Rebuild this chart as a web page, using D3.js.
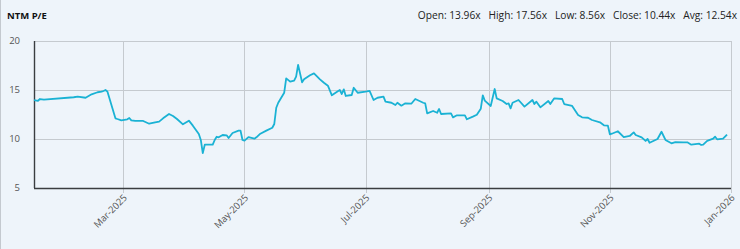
<!DOCTYPE html>
<html>
<head>
<meta charset="utf-8">
<script src="https://cdn.jsdelivr.net/npm/d3@7"></script>
<style>
  html, body { margin: 0; padding: 0; background: #eef4fa; }
  svg { display: block; font-family: 'Open Sans', sans-serif; }
</style>
</head>
<body>
<svg></svg>
<script>
const dates = [
  '2025-01-15', '2025-01-17', '2025-01-18', '2025-01-20', '2025-02-04', '2025-02-06', '2025-02-10', '2025-02-13',
  '2025-02-16', '2025-02-18', '2025-02-19', '2025-02-20', '2025-02-21', '2025-02-25', '2025-02-26', '2025-02-28',
  '2025-03-03', '2025-03-04', '2025-03-05', '2025-03-07', '2025-03-11', '2025-03-14', '2025-03-17', '2025-03-19',
  '2025-03-21', '2025-03-24', '2025-03-26', '2025-03-28', '2025-03-31', '2025-04-03', '2025-04-05', '2025-04-08',
  '2025-04-09', '2025-04-10', '2025-04-11', '2025-04-15', '2025-04-16', '2025-04-17', '2025-04-18', '2025-04-20',
  '2025-04-22', '2025-04-23', '2025-04-25', '2025-04-28', '2025-04-29', '2025-04-30', '2025-05-01', '2025-05-03',
  '2025-05-06', '2025-05-07', '2025-05-09', '2025-05-12', '2025-05-15', '2025-05-16', '2025-05-17', '2025-05-18',
  '2025-05-21', '2025-05-22', '2025-05-24', '2025-05-26', '2025-05-27', '2025-05-28', '2025-05-30', '2025-05-31',
  '2025-06-03', '2025-06-05', '2025-06-08', '2025-06-10', '2025-06-12', '2025-06-14', '2025-06-17', '2025-06-18',
  '2025-06-19', '2025-06-20', '2025-06-21', '2025-06-24', '2025-06-25', '2025-06-27', '2025-07-01', '2025-07-03',
  '2025-07-05', '2025-07-07', '2025-07-10', '2025-07-11', '2025-07-14', '2025-07-16', '2025-07-17', '2025-07-19',
  '2025-07-21', '2025-07-24', '2025-07-26', '2025-07-30', '2025-07-31', '2025-08-01', '2025-08-04', '2025-08-06',
  '2025-08-07', '2025-08-08', '2025-08-13', '2025-08-14', '2025-08-16', '2025-08-20', '2025-08-21', '2025-08-24',
  '2025-08-26', '2025-08-28', '2025-08-29', '2025-08-30', '2025-09-02', '2025-09-04', '2025-09-05', '2025-09-08',
  '2025-09-10', '2025-09-11', '2025-09-12', '2025-09-13', '2025-09-16', '2025-09-19', '2025-09-23', '2025-09-24',
  '2025-09-25', '2025-09-27', '2025-10-01', '2025-10-02', '2025-10-04', '2025-10-08', '2025-10-09', '2025-10-13',
  '2025-10-16', '2025-10-18', '2025-10-21', '2025-10-23', '2025-10-27', '2025-10-29', '2025-10-31', '2025-11-01',
  '2025-11-02', '2025-11-05', '2025-11-08', '2025-11-11', '2025-11-13', '2025-11-14', '2025-11-17', '2025-11-19',
  '2025-11-20', '2025-11-21', '2025-11-25', '2025-11-27', '2025-11-29', '2025-12-02', '2025-12-04', '2025-12-08',
  '2025-12-10', '2025-12-12', '2025-12-16', '2025-12-17', '2025-12-18', '2025-12-20', '2025-12-23', '2025-12-24',
  '2025-12-25', '2025-12-28', '2025-12-30'
]
const values = [
  13.96, 13.9, 14.08, 14.01, 14.26, 14.32, 14.21, 14.56,
  14.77, 14.83, 14.9, 15.0, 14.83, 12.11, 12.04, 11.91,
  12.01, 12.14, 11.91, 11.84, 11.84, 11.56, 11.7, 11.77,
  12.11, 12.55, 12.35, 12.04, 11.5, 11.87, 11.36, 10.51,
  9.9, 8.56, 9.42, 9.42, 9.9, 10.23, 10.17, 10.41,
  10.38, 10.1, 10.61, 10.85, 10.85, 9.9, 9.83, 10.2,
  10.03, 10.17, 10.54, 10.85, 11.15, 11.53, 13.19, 13.7,
  14.72, 16.19, 15.85, 15.95, 16.36, 17.56, 15.79, 16.09,
  16.5, 16.7, 16.09, 15.74, 15.44, 14.46, 14.87, 15.0,
  14.59, 15.07, 14.39, 14.49, 15.23, 14.72, 14.83, 14.9,
  13.98, 14.21, 14.32, 13.81, 13.7, 13.47, 13.7, 13.4,
  13.64, 13.6, 14.08, 13.7, 13.64, 12.62, 12.86, 12.68,
  13.06, 12.55, 12.62, 12.21, 12.42, 12.42, 12.01, 12.28,
  12.48, 13.09, 14.46, 13.91, 13.37, 15.1, 14.15, 13.88,
  13.57, 13.64, 13.13, 13.7, 13.98, 13.3, 13.98, 13.57,
  13.81, 13.23, 13.88, 13.57, 14.15, 14.08, 13.57, 13.37,
  12.45, 12.21, 12.17, 11.94, 11.7, 11.4, 11.36, 10.48,
  10.54, 10.79, 10.2, 10.31, 10.68, 10.41, 10.17, 9.8,
  10.0, 9.62, 10.0, 10.74, 9.9, 9.56, 9.69, 9.66,
  9.66, 9.42, 9.52, 9.39, 9.42, 9.8, 10.03, 10.23,
  9.97, 10.03, 10.44
]
const yTicks = [5, 10, 15, 20]
const xTicks = ['2025-03-01', '2025-05-01', '2025-07-01', '2025-09-01', '2025-11-01', '2026-01-01']
const xDomain = ['2025-01-15', '2026-01-01']
const title = 'NTM P/E'
const stats = [['Open', 13.96], ['High', 17.56], ['Low', 8.56], ['Close', 10.44], ['Avg', 12.54]]

const width = 740
const height = 249
const margin = { top: 41, right: 9, bottom: 61, left: 34 }
const parse = d3.timeParse('%Y-%m-%d')
const data = dates.map((d, i) => ({ date: parse(d), value: values[i] }))

const svg = d3.select('svg').attr('width', width).attr('height', height)

const x = d3.scaleTime()
  .domain(xDomain.map(parse))
  .range([margin.left, width - margin.right])
const y = d3.scaleLinear()
  .domain([5, 20])
  .range([height - margin.bottom, margin.top])

// outer frame line on the left
svg.append('line')
  .attr('x1', 0.5).attr('x2', 0.5).attr('y1', 0).attr('y2', height)
  .attr('stroke', '#c4c9cf')

svg.append('text')
  .attr('x', 7).attr('y', 19)
  .attr('font-size', 9.5).attr('font-weight', 'bold')
  .attr('fill', '#111')
  .text(title)

svg.append('text')
  .attr('x', 737).attr('y', 19)
  .attr('text-anchor', 'end')
  .attr('font-size', 10.2).attr('fill', '#222')
  .attr('xml:space', 'preserve')
  .text(stats.map(s => s[0] + ': ' + s[1].toFixed(2) + 'x').join('   '))

// grid
const grid = svg.append('g')
grid.selectAll('.hg')
  .data(yTicks.filter(t => t > 5))
  .enter().append('line')
  .attr('x1', margin.left).attr('x2', width - margin.right)
  .attr('y1', d => Math.round(y(d)) + 0.5).attr('y2', d => Math.round(y(d)) + 0.5)
  .attr('stroke', '#c5cacf').attr('stroke-width', 1)

grid.selectAll('.vg')
  .data(xTicks.map(parse))
  .enter().append('line')
  .attr('x1', d => Math.round(x(d)) + 0.5).attr('x2', d => Math.round(x(d)) + 0.5)
  .attr('y1', margin.top).attr('y2', height - margin.bottom + 5)
  .attr('stroke', '#c5cacf').attr('stroke-width', 1)

// y axis labels
svg.append('g')
  .selectAll('text')
  .data(yTicks)
  .enter().append('text')
  .attr('x', 20).attr('y', d => y(d))
  .attr('dy', '0.35em')
  .attr('text-anchor', 'end')
  .attr('font-size', 9.5).attr('fill', '#555')
  .text(d => d)

// x axis labels
const fmt = d3.timeFormat('%b-%Y')
svg.append('g')
  .selectAll('text')
  .data(xTicks.map(parse))
  .enter().append('text')
  .attr('transform', d => `translate(${x(d) + 2},${height - margin.bottom + 8}) rotate(-45)`)
  .attr('text-anchor', 'end')
  .attr('dy', '0.35em')
  .attr('font-size', 9.5).attr('fill', '#555')
  .text(d => fmt(d))

// axis lines
svg.append('line')
  .attr('x1', margin.left).attr('x2', width - margin.right)
  .attr('y1', height - margin.bottom + 0.5).attr('y2', height - margin.bottom + 0.5)
  .attr('stroke', '#3a3d40').attr('stroke-width', 1.6)
svg.append('line')
  .attr('x1', margin.left + 0.5).attr('x2', margin.left + 0.5)
  .attr('y1', margin.top).attr('y2', height - margin.bottom)
  .attr('stroke', '#3a3d40').attr('stroke-width', 1.4)

const line = d3.line()
  .x(d => x(d.date))
  .y(d => y(d.value))

svg.append('path')
  .datum(data)
  .attr('fill', 'none')
  .attr('stroke', '#1ab2d4')
  .attr('stroke-width', 1.8)
  .attr('stroke-linejoin', 'round')
  .attr('d', line)
</script>
</body>
</html>
